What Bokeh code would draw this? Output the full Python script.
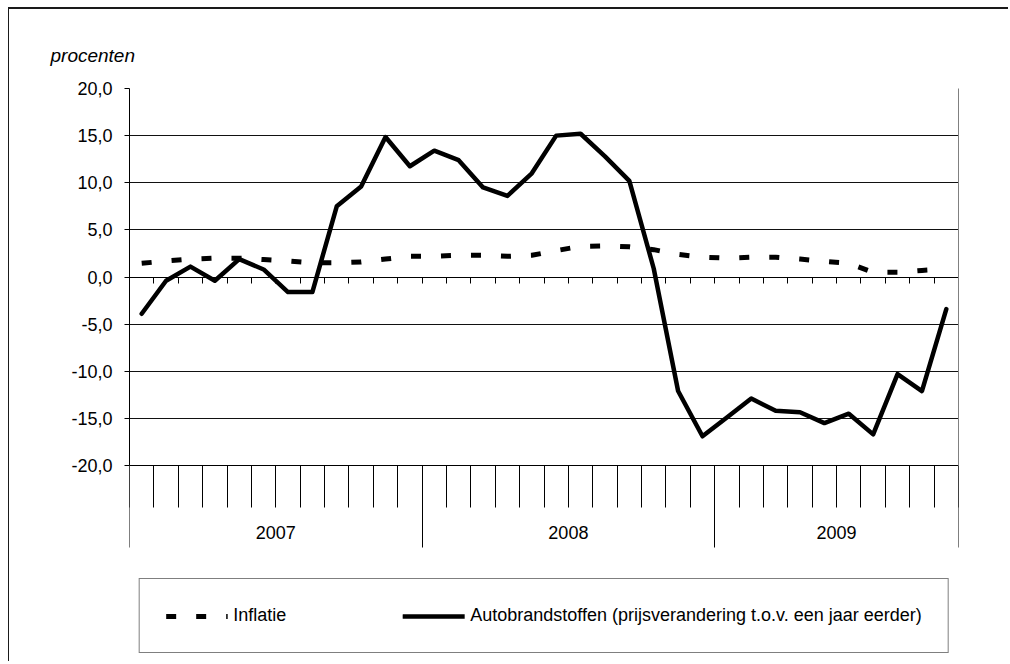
from bokeh.plotting import figure
from bokeh.models import (LinearAxis, FixedTicker, Range1d, Legend, LegendItem,
                          Grid, ColumnDataSource)
from bokeh.embed import file_html
from bokeh.resources import INLINE

# ---------------- data ----------------
years = ["2007", "2008", "2009"]
months_per_year = [12, 12, 10]
month_names = ["jan", "feb", "mrt", "apr", "mei", "jun",
               "jul", "aug", "sep", "okt", "nov", "dec"]

inflatie = [1.45, 1.7, 1.9, 2.0, 2.0, 1.85, 1.7, 1.5, 1.5, 1.6,
            1.9, 2.2, 2.2, 2.3, 2.3, 2.2, 2.3, 2.8, 3.25, 3.3,
            3.2, 2.9, 2.4, 2.1, 2.0, 2.1, 2.1, 1.9, 1.65, 1.45,
            0.5, 0.5, 0.7, 0.85]
autobrandstoffen = [-3.9, -0.4, 1.1, -0.4, 1.9, 0.8, -1.6, -1.6, 7.5, 9.6,
                    14.85, 11.75, 13.4, 12.4, 9.5, 8.6, 11.0, 15.0, 15.2, 12.8,
                    10.2, 0.9, -12.1, -16.9, -14.9, -12.9, -14.2, -14.35, -15.5, -14.5,
                    -16.7, -10.3, -12.1, -3.4]

y_ticks = [-20, -15, -10, -5, 0, 5, 10, 15, 20]
y_tick_labels = ["-20,0", "-15,0", "-10,0", "-5,0", "0,0", "5,0", "10,0", "15,0", "20,0"]

series_names = ["Inflatie", "Autobrandstoffen (prijsverandering t.o.v. een jaar eerder)"]
y_axis_title = "procenten"

# ---------------- derived ----------------
months = []
for y, n in zip(years, months_per_year):
    for m in range(n):
        months.append(f"{month_names[m]} {y}")
n_months = len(months)
x_pos = [i + 0.5 for i in range(n_months)]
month_bounds = list(range(n_months + 1))
year_bounds = [0]
for n in months_per_year:
    year_bounds.append(year_bounds[-1] + n)
year_centers = [(a + b) / 2 for a, b in zip(year_bounds[:-1], year_bounds[1:])]
y_lo, y_hi = y_ticks[0], y_ticks[-1]

src = ColumnDataSource(dict(x=x_pos, month=months, inflatie=inflatie,
                            auto=autobrandstoffen))

# ---------------- layout constants (pixels) ----------------
W, H = 1000, 654
BORDER_L, BORDER_R, BORDER_T, BORDER_B = 120, 51, 79, 5
FRAME_H = H - BORDER_T - BORDER_B          # 570: chart area + category axis + legend
PLOT_H = 377                                # height of the -20..20 value band
px_per_unit = PLOT_H / (y_hi - y_lo)
y0 = y_hi - FRAME_H / px_per_unit           # extend range downward for axis / legend room

FONT = "Liberation Sans"
FS = "18px"

p = figure(width=W, height=H,
           x_range=Range1d(0, n_months), y_range=Range1d(y0, y_hi),
           x_axis_type=None, y_axis_type=None,
           output_backend="svg", toolbar_location=None,
           min_border_left=BORDER_L, min_border_right=BORDER_R,
           min_border_top=BORDER_T, min_border_bottom=BORDER_B)
p.outline_line_color = None
p.background_fill_color = "white"
p.border_fill_color = "white"
p.styles = {"margin-left": "8px", "margin-top": "7px",
            "border-top": "2px solid #1a1a1a", "border-left": "1px solid #1a1a1a"}

# title used as the unit label "procenten"
p.title.text = y_axis_title
p.title.align = "left"
p.title.offset = -79
p.title.standoff = 46
p.title.text_font = FONT
p.title.text_font_size = "19px"
p.title.text_font_style = "italic"
p.title.text_color = "black"

# horizontal grid lines (dark) and grey top border of the chart area
p.add_layout(Grid(dimension=1,
                  ticker=FixedTicker(ticks=[t for t in y_ticks if t != y_hi]),
                  grid_line_color="#111111", grid_line_width=1))
p.add_layout(Grid(dimension=1, ticker=FixedTicker(ticks=[y_hi]),
                  grid_line_color="#808080", grid_line_width=1))

# value axis (left)
yaxis = LinearAxis(bounds=(y_lo, y_hi),
                   ticker=FixedTicker(ticks=y_ticks, minor_ticks=[]),
                   major_label_overrides=dict(zip(y_ticks, y_tick_labels)),
                   major_tick_out=5, major_tick_in=0,
                   minor_tick_out=0, minor_tick_in=0,
                   axis_line_color="black", major_tick_line_color="black",
                   major_label_text_font=FONT, major_label_text_font_size=FS,
                   major_label_text_color="black", major_label_standoff=12)
p.add_layout(yaxis, "left")

# grey right border of the chart area
raxis = LinearAxis(bounds=(y_lo, y_hi),
                   ticker=FixedTicker(ticks=[], minor_ticks=[]),
                   major_tick_out=0, major_tick_in=0, minor_tick_out=0, minor_tick_in=0,
                   axis_line_color="#808080", major_label_text_font_size="0px")
p.add_layout(raxis, "right")

# bottom category axis: month and year separators
xaxis = LinearAxis(fixed_location=y_lo, bounds=(0, n_months),
                   ticker=FixedTicker(ticks=year_bounds, minor_ticks=month_bounds),
                   major_tick_out=82, major_tick_in=0,
                   minor_tick_out=42, minor_tick_in=0,
                   axis_line_color="black", major_tick_line_color="black",
                   minor_tick_line_color="black",
                   major_label_text_font_size="0px", major_label_text_alpha=0,
                   major_label_standoff=0)
p.add_layout(xaxis, "below")

# year labels between the separators
year_axis = LinearAxis(fixed_location=y_lo, bounds=(0, n_months),
                       ticker=FixedTicker(ticks=year_centers, minor_ticks=[]),
                       major_label_overrides=dict(zip(year_centers, years)),
                       major_tick_out=0, major_tick_in=0,
                       minor_tick_out=0, minor_tick_in=0,
                       axis_line_color=None, major_tick_line_color=None,
                       major_label_text_font=FONT, major_label_text_font_size=FS,
                       major_label_text_color="black", major_label_standoff=60)
p.add_layout(year_axis, "below")

# axis crossing at zero with small month ticks
zaxis = LinearAxis(fixed_location=0, bounds=(0, n_months),
                   ticker=FixedTicker(ticks=month_bounds, minor_ticks=[]),
                   major_tick_in=6, major_tick_out=0,
                   minor_tick_in=0, minor_tick_out=0,
                   axis_line_color="black", major_tick_line_color="black",
                   major_label_text_font_size="0px", major_label_text_alpha=0,
                   major_label_standoff=0)
p.add_layout(zaxis, "above")

# series
r_inf = p.line("x", "inflatie", source=src, line_color="black", line_width=5,
               line_dash="10 20", line_cap="butt", line_join="round")
r_auto = p.line("x", "auto", source=src, line_color="black", line_width=4.5,
                line_join="round", line_cap="round")

legend = Legend(items=[LegendItem(label=series_names[0], renderers=[r_inf]),
                       LegendItem(label=series_names[1], renderers=[r_auto])],
                location="bottom_center", orientation="horizontal",
                padding=26, spacing=116, glyph_width=62, glyph_height=20,
                label_standoff=6, margin=5,
                border_line_color="black", border_line_width=1,
                background_fill_color="white", background_fill_alpha=1,
                label_text_font=FONT, label_text_font_size=FS,
                label_text_color="black")
p.add_layout(legend, "center")

open("out.html", "w").write(file_html(p, INLINE))
